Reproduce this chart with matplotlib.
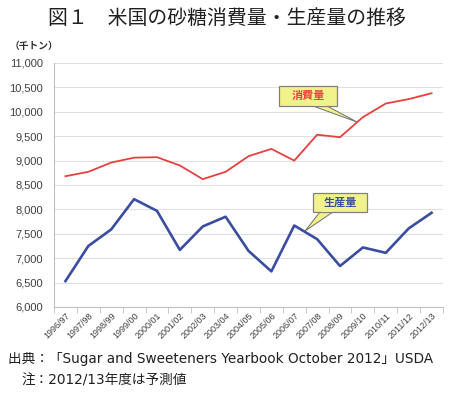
import matplotlib
matplotlib.use('Agg')
import matplotlib.pyplot as plt
from matplotlib.patches import Polygon, Rectangle

plt.rcParams['font.family'] = ['Noto Sans CJK JP', 'DejaVu Sans']

# データ（千トン）
seasons = ['1996/97', '1997/98', '1998/99', '1999/00', '2000/01', '2001/02',
           '2002/03', '2003/04', '2004/05', '2005/06', '2006/07', '2007/08',
           '2008/09', '2009/10', '2010/11', '2011/12', '2012/13']
consumption = [8680, 8770, 8960, 9060, 9070, 8900, 8620, 8770, 9090,
               9240, 9000, 9530, 9480, 9890, 10170, 10260, 10380]
production = [6530, 7250, 7590, 8210, 7970, 7170, 7650, 7850, 7150,
              6730, 7670, 7390, 6840, 7220, 7110, 7610, 7930]

W, H = 450, 393
fig = plt.figure(figsize=(W / 100, H / 100), dpi=100)


def px(x, y):
    # ピクセル座標 -> figure 座標
    return (x / W, 1 - y / H)


ax = fig.add_axes([54 / W, 86 / H, 389 / W, 244 / H])
x = list(range(len(seasons)))
ax.plot(x, consumption, color='#e8403f', lw=1.3)
ax.plot(x, production, color='#3b4da0', lw=1.9)

ax.set_xlim(-0.5, len(seasons) - 0.5)
ax.set_ylim(6000, 11000)
ax.set_yticks(range(6000, 11001, 500))
ax.set_yticklabels([f'{v:,}' for v in range(6000, 11001, 500)],
                   fontsize=8, color='#404040', family=['Liberation Sans', 'DejaVu Sans'])
ax.tick_params(axis='y', length=0, pad=8)
ax.grid(axis='y', color='#e0e0e0', lw=0.8)
ax.set_axisbelow(True)

ax.set_xticks(x)
ax.set_xticklabels(seasons, rotation=45, ha='right', va='top',
                   rotation_mode='anchor', fontsize=6.5, color='#404040',
                   family=['Liberation Sans', 'DejaVu Sans'])
ax.tick_params(axis='x', length=0, pad=3)
ax.set_xticks([i - 0.5 for i in range(len(seasons) + 1)], minor=True)
ax.tick_params(axis='x', which='minor', length=4, color='#c0c0c0')

for s in ['top', 'right']:
    ax.spines[s].set_visible(False)
for s in ['left', 'bottom']:
    ax.spines[s].set_color('#c0c0c0')

# 吹き出し
def callout(box, base, tip, text, color):
    x0, y0, x1, y1 = box
    wedge = Polygon([px(base[0], y1), px(tip[0], tip[1]), px(base[1], y1)],
                    closed=True, transform=fig.transFigure,
                    facecolor='#f2f28c', edgecolor='#707070', lw=0.7)
    fig.add_artist(wedge)
    rect = Rectangle(px(x0, y1), (x1 - x0) / W, (y1 - y0) / H,
                     transform=fig.transFigure, facecolor='#f2f28c',
                     edgecolor='#808080', lw=0.9)
    fig.add_artist(rect)
    cover = Rectangle(px(base[0] + 0.8, y1 + 0.3), (base[1] - base[0] - 1.6) / W, 1.2 / H,
                      transform=fig.transFigure, facecolor='#f2f28c',
                      edgecolor='none')
    fig.add_artist(cover)
    fig.text(*px((x0 + x1) / 2, (y0 + y1) / 2), text, ha='center', va='center',
             fontsize=8, fontweight='bold', color=color)


callout((279, 86, 337, 106), (313, 327), (357, 122), '消費量', '#e8403f')
callout((313, 193, 367, 212), (320, 333), (305, 231), '生産量', '#3b4da0')

fig.text(*px(227, 18), '図１　米国の砂糖消費量・生産量の推移', ha='center', va='center',
         fontsize=14.3, color='#202020')
fig.text(*px(10, 46), '（千トン）', ha='left', va='center', fontsize=7,
         fontweight='bold', color='#303030')

# 出典・注（欧文は幅の広い DejaVu Sans、和文は Noto へフォールバック）
renderer = fig.canvas.get_renderer()


def fit_text(x0, x1, y, s):
    t = fig.text(*px(x0, y), s, ha='left', va='center', fontsize=10,
                 color='#202020', family=['DejaVu Sans', 'Noto Sans CJK JP'])
    w = t.get_window_extent(renderer).width
    t.set_fontsize(10 * (x1 - x0) / w)
    return t


fit_text(8, 433, 359, '出典：「Sugar and Sweeteners Yearbook October 2012」USDA')
fit_text(22, 187, 380, '注：2012/13年度は予測値')

fig.savefig('out.png', dpi=100)
